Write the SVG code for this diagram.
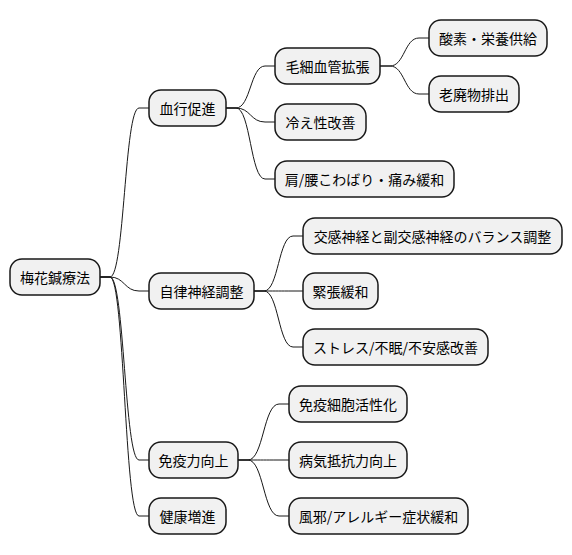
<svg xmlns="http://www.w3.org/2000/svg" width="572" height="555" viewBox="0 0 572 555">
<style>
.n rect{fill:#f1f1f1;stroke:#181818;stroke-width:1.5}
.n text{font-family:"Noto Sans CJK JP","Noto Sans",sans-serif;font-size:14px;fill:#000;text-anchor:middle;dominant-baseline:central}
#edges path{fill:none;stroke:#181818;stroke-width:1}
</style>
<rect width="572" height="555" fill="#fff"/>
<g id="edges">
<path d="M100,277 L110,277 C124.5,277 124.5,108 139,108 L149,108"/>
<path d="M100,277 L110,277 C124.5,277 124.5,291 139,291 L149,291"/>
<path d="M100,277 L110,277 C124.5,277 124.5,460 139,460 L149,460"/>
<path d="M100,277 L110,277 C124.5,277 124.5,516 139,516 L149,516"/>
<path d="M226,108 L236,108 C250.5,108 250.5,66 265,66 L275,66"/>
<path d="M226,108 L236,108 C250.5,108 250.5,122 265,122 L275,122"/>
<path d="M226,108 L236,108 C250.5,108 250.5,179 265,179 L275,179"/>
<path d="M380,66 L390,66 C404.5,66 404.5,38 419,38 L429,38"/>
<path d="M380,66 L390,66 C404.5,66 404.5,94 419,94 L429,94"/>
<path d="M254,291 L264,291 C278.5,291 278.5,236 293,236 L303,236"/>
<path d="M254,291 L264,291 C278.5,291 278.5,291 293,291 L303,291"/>
<path d="M254,291 L264,291 C278.5,291 278.5,347 293,347 L303,347"/>
<path d="M238,460 L248,460 C263.5,460 263.5,404 279,404 L289,404"/>
<path d="M238,460 L248,460 C263.5,460 263.5,460 279,460 L289,460"/>
<path d="M238,460 L248,460 C263.5,460 263.5,516 279,516 L289,516"/>
</g>
<g id="root" class="n"><rect x="10" y="259" width="90" height="36" rx="12"/><text x="55" y="277">梅花鍼療法</text></g>
<g id="n1" class="n"><rect x="149" y="90" width="77" height="36" rx="12"/><text x="187.5" y="108">血行促進</text></g>
<g id="n2" class="n"><rect x="149" y="273" width="105" height="36" rx="12"/><text x="201.5" y="291">自律神経調整</text></g>
<g id="n3" class="n"><rect x="149" y="442" width="89" height="36" rx="12"/><text x="193.5" y="460">免疫力向上</text></g>
<g id="n4" class="n"><rect x="149" y="498" width="77" height="36" rx="12"/><text x="187.5" y="516">健康増進</text></g>
<g id="n11" class="n"><rect x="275" y="48" width="105" height="36" rx="12"/><text x="327.5" y="66">毛細血管拡張</text></g>
<g id="n12" class="n"><rect x="275" y="104" width="91" height="36" rx="12"/><text x="320.5" y="122">冷え性改善</text></g>
<g id="n13" class="n"><rect x="275" y="161" width="179" height="36" rx="12"/><text x="364.5" y="179">肩/腰こわばり・痛み緩和</text></g>
<g id="n111" class="n"><rect x="429" y="20" width="118" height="36" rx="12"/><text x="488" y="38">酸素・栄養供給</text></g>
<g id="n112" class="n"><rect x="429" y="76" width="90" height="36" rx="12"/><text x="474" y="94">老廃物排出</text></g>
<g id="n21" class="n"><rect x="303" y="218" width="259" height="36" rx="12"/><text x="432.5" y="236">交感神経と副交感神経のバランス調整</text></g>
<g id="n22" class="n"><rect x="303" y="273" width="75" height="36" rx="12"/><text x="340.5" y="291">緊張緩和</text></g>
<g id="n23" class="n"><rect x="303" y="329" width="185" height="36" rx="12"/><text x="395.5" y="347">ストレス/不眠/不安感改善</text></g>
<g id="n31" class="n"><rect x="289" y="386" width="118" height="36" rx="12"/><text x="348" y="404">免疫細胞活性化</text></g>
<g id="n32" class="n"><rect x="289" y="442" width="118" height="36" rx="12"/><text x="348" y="460">病気抵抗力向上</text></g>
<g id="n33" class="n"><rect x="289" y="498" width="179" height="36" rx="12"/><text x="378.5" y="516">風邪/アレルギー症状緩和</text></g>
</svg>
